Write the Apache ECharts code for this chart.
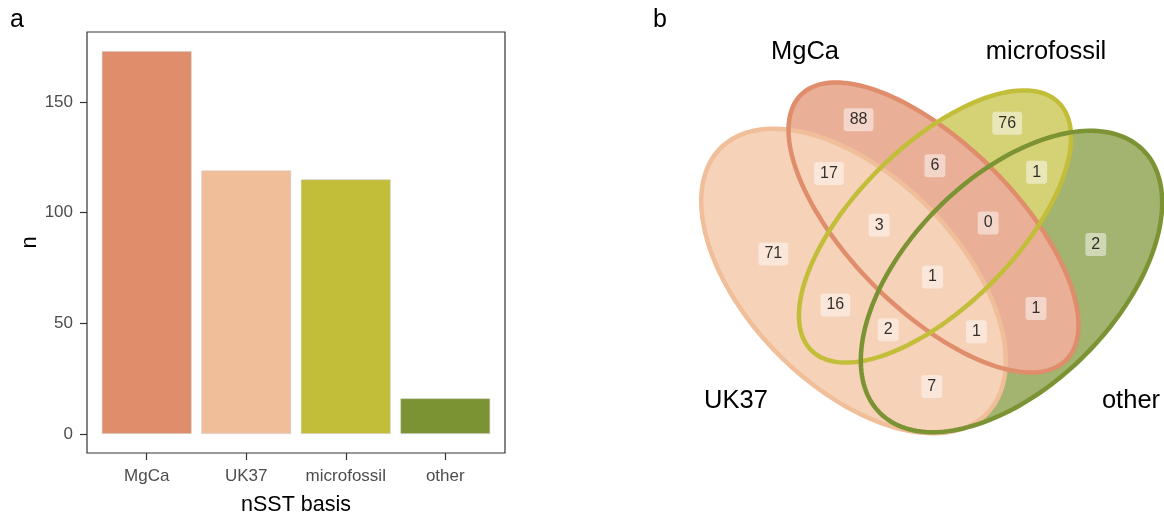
<!DOCTYPE html>
<html>
<head>
<meta charset="utf-8">
<script src="https://cdn.jsdelivr.net/npm/echarts@6/dist/echarts.min.js"></script>
<style>
html, body { margin: 0; padding: 0; background: #fff; }
#chart { width: 1164px; height: 515px; }
</style>
</head>
<body>
<div id="chart"></div>
<script>
// panel a - number of records per nSST basis
const basisNames = ['MgCa', 'UK37', 'microfossil', 'other'];
const basisCounts = [173, 119, 115, 16];
const basisColors = ['#DF8D6B', '#F1BE9A', '#C3BE3A', '#7B9332'];
const yTicks = [0, 50, 100, 150];

// panel b - venn regions, flags in order UK37, MgCa, microfossil, other
const vennSets = ['UK37', 'MgCa', 'microfossil', 'other'];
const vennColors = ['#F1BE9A', '#DF8D6B', '#C3BE3A', '#7B9332'];
const regionKeys = ['1000', '0100', '0010', '0001', '1100', '0110', '0011', '1010', '1001', '0101', '1110', '0111', '1011', '1101', '1111'];
const regionCounts = [71, 88, 76, 2, 17, 6, 1, 16, 7, 1, 3, 0, 2, 1, 1];

// ellipse layout of the venn panel: cx, cy, a, b, angle (panel pixels)
const ellipseShapes = [
    [213.5, 281, 188, 105, 45],
    [293.5, 227.5, 187.5, 83, 45],
    [295, 226.5, 175, 80, -45],
    [371.5, 281.5, 186, 104, -45]
];

const FONT_A = "'Liberation Sans Narrow', 'Liberation Sans', Arial, sans-serif";
const FONT_B = "'Liberation Sans', Arial, sans-serif";
const PANEL_W = 524, PANEL_H = 515;

function lighten(hex, alpha) {   // colour at alpha over white
    const n = parseInt(hex.slice(1), 16);
    const ch = [(n >> 16) & 255, (n >> 8) & 255, n & 255].map(c => Math.round(255 - alpha * (255 - c)));
    return 'rgb(' + ch.join(',') + ')';
}

function insideEllipse(e, x, y) {
    const t = e[4] * Math.PI / 180;
    const dx = x - e[0], dy = y - e[1];
    const u = dx * Math.cos(t) + dy * Math.sin(t);
    const v = -dx * Math.sin(t) + dy * Math.cos(t);
    return (u * u) / (e[2] * e[2]) + (v * v) / (e[3] * e[3]) <= 1;
}

function ellipsePoints(e, api) {
    const t = e[4] * Math.PI / 180;
    const pts = [];
    for (let k = 0; k < 180; k++) {
        const s = k / 180 * Math.PI * 2;
        const x = e[0] + e[2] * Math.cos(s) * Math.cos(t) - e[3] * Math.sin(s) * Math.sin(t);
        const y = e[1] + e[2] * Math.cos(s) * Math.sin(t) + e[3] * Math.sin(s) * Math.cos(t);
        pts.push(api.coord([x, y]));
    }
    return pts;
}

function maskAt(x, y) {
    let m = 0;
    ellipseShapes.forEach((e, i) => { if (insideEllipse(e, x, y)) m |= (1 << i); });
    return m;
}

// label spot of each region = its centroid (sampled)
function regionLabelSpots() {
    const step = 1.5;
    const sums = {};
    for (let y = 0; y <= PANEL_H; y += step) {
        for (let x = 0; x <= PANEL_W + 60; x += step) {
            const m = maskAt(x, y);
            if (!m) continue;
            const s = sums[m] = sums[m] || [0, 0, 0];
            s[0] += x; s[1] += y; s[2]++;
        }
    }
    const spots = {};
    Object.keys(sums).forEach(m => {
        const s = sums[m];
        spots[m] = [s[0] / s[2], s[1] / s[2]];
    });
    return spots;
}

const spots = regionLabelSpots();
const labelData = regionKeys.map((k, i) => {
    let m = 0;
    k.split('').forEach((f, j) => { if (f === '1') m |= (1 << j); });
    const p = spots[m] || [0, 0];
    return [p[0], p[1], regionCounts[i]];
});

const yMax = Math.max(...basisCounts);
const gridA = { left: 87, top: 32, width: 418, height: 421 };
const xMinA = 0.4, xMaxA = basisNames.length + 0.6;
const barPx = 0.9 * gridA.width / (xMaxA - xMinA);

const fillOrder = [3, 2, 1, 0];
const strokeOrder = [0, 1, 2, 3];

const chart = echarts.init(document.getElementById('chart'));
const option = {
    animation: false,
    grid: [
        { left: gridA.left, top: gridA.top, width: gridA.width, height: gridA.height, outerBoundsMode: 'none',
          show: true, borderColor: '#333333', borderWidth: 1.2, backgroundColor: 'transparent' },
        { left: 640, top: 0, width: PANEL_W, height: PANEL_H, outerBoundsMode: 'none', show: false }
    ],
    xAxis: [
        {
            type: 'value', gridIndex: 0, min: xMinA, max: xMaxA,
            axisLine: { show: false, onZero: false },
            splitLine: { show: false },
            axisTick: { show: true, length: 7, customValues: basisNames.map((n, i) => i + 1),
                        lineStyle: { color: '#333333', width: 1.2 } },
            axisLabel: { customValues: basisNames.map((n, i) => i + 1), formatter: v => basisNames[v - 1],
                         color: '#4d4d4d', fontSize: 17, fontFamily: FONT_A, margin: 15 },
            name: 'nSST basis', nameLocation: 'middle', nameGap: 41,
            nameTextStyle: { color: '#000', fontSize: 21.5, fontFamily: FONT_A }
        },
        { type: 'value', gridIndex: 1, min: 0, max: PANEL_W, show: false }
    ],
    yAxis: [
        {
            type: 'value', gridIndex: 0, min: -0.05 * yMax, max: 1.05 * yMax,
            axisLine: { show: false, onZero: false },
            splitLine: { show: false },
            axisTick: { show: true, length: 7, customValues: yTicks, lineStyle: { color: '#333333', width: 1.2 } },
            axisLabel: { customValues: yTicks, color: '#4d4d4d', fontSize: 17, fontFamily: FONT_A, margin: 14 },
            name: 'n', nameLocation: 'middle', nameGap: 44,
            nameTextStyle: { color: '#000', fontSize: 22, fontFamily: FONT_A }
        },
        { type: 'value', gridIndex: 1, min: 0, max: PANEL_H, inverse: true, show: false }
    ],
    graphic: [
        { type: 'text', left: 10, top: 8, style: { text: 'a', fontSize: 25, fontFamily: FONT_A, fill: '#000' } },
        { type: 'text', left: 653, top: 8, style: { text: 'b', fontSize: 25, fontFamily: FONT_B, fill: '#000' } },
        { type: 'text', x: 805, y: 52, style: { text: 'MgCa', fontSize: 25.5, fontFamily: FONT_B, fill: '#000', align: 'center', verticalAlign: 'middle' } },
        { type: 'text', x: 1046, y: 52, style: { text: 'microfossil', fontSize: 25.5, fontFamily: FONT_B, fill: '#000', align: 'center', verticalAlign: 'middle' } },
        { type: 'text', x: 736, y: 401, style: { text: 'UK37', fontSize: 25.5, fontFamily: FONT_B, fill: '#000', align: 'center', verticalAlign: 'middle' } },
        { type: 'text', x: 1131, y: 401, style: { text: 'other', fontSize: 25.5, fontFamily: FONT_B, fill: '#000', align: 'center', verticalAlign: 'middle' } }
    ],
    series: [
        {
            type: 'bar', xAxisIndex: 0, yAxisIndex: 0, barWidth: barPx,
            data: basisCounts.map((v, i) => ({
                value: [i + 1, v],
                itemStyle: { color: basisColors[i], borderColor: '#c4c4c4', borderWidth: 0.5 }
            }))
        },
        {   // venn fills
            type: 'custom', xAxisIndex: 1, yAxisIndex: 1, z: 1,
            data: fillOrder.map(i => [ellipseShapes[i][0], ellipseShapes[i][1], i]),
            encode: { x: 0, y: 1 },
            renderItem: function (params, api) {
                const i = fillOrder[params.dataIndex];
                return { type: 'polygon', shape: { points: ellipsePoints(ellipseShapes[i], api) },
                         style: { fill: lighten(vennColors[i], 0.7) } };
            }
        },
        {   // venn outlines
            type: 'custom', xAxisIndex: 1, yAxisIndex: 1, z: 2,
            data: strokeOrder.map(i => [ellipseShapes[i][0], ellipseShapes[i][1], i]),
            encode: { x: 0, y: 1 },
            renderItem: function (params, api) {
                const i = strokeOrder[params.dataIndex];
                return { type: 'polygon', shape: { points: ellipsePoints(ellipseShapes[i], api) },
                         style: { fill: 'none', stroke: vennColors[i], lineWidth: 4.5 } };
            }
        },
        {   // region counts
            type: 'scatter', xAxisIndex: 1, yAxisIndex: 1, z: 3,
            symbolSize: 0, data: labelData,
            label: {
                show: true, position: 'inside', formatter: p => String(p.value[2]),
                color: '#000', fontSize: 16, fontFamily: FONT_B,
                backgroundColor: 'rgba(255,255,255,0.6)', padding: [4, 6, 3, 6], borderRadius: 3
            }
        }
    ]
};
chart.setOption(option);
</script>
</body>
</html>
